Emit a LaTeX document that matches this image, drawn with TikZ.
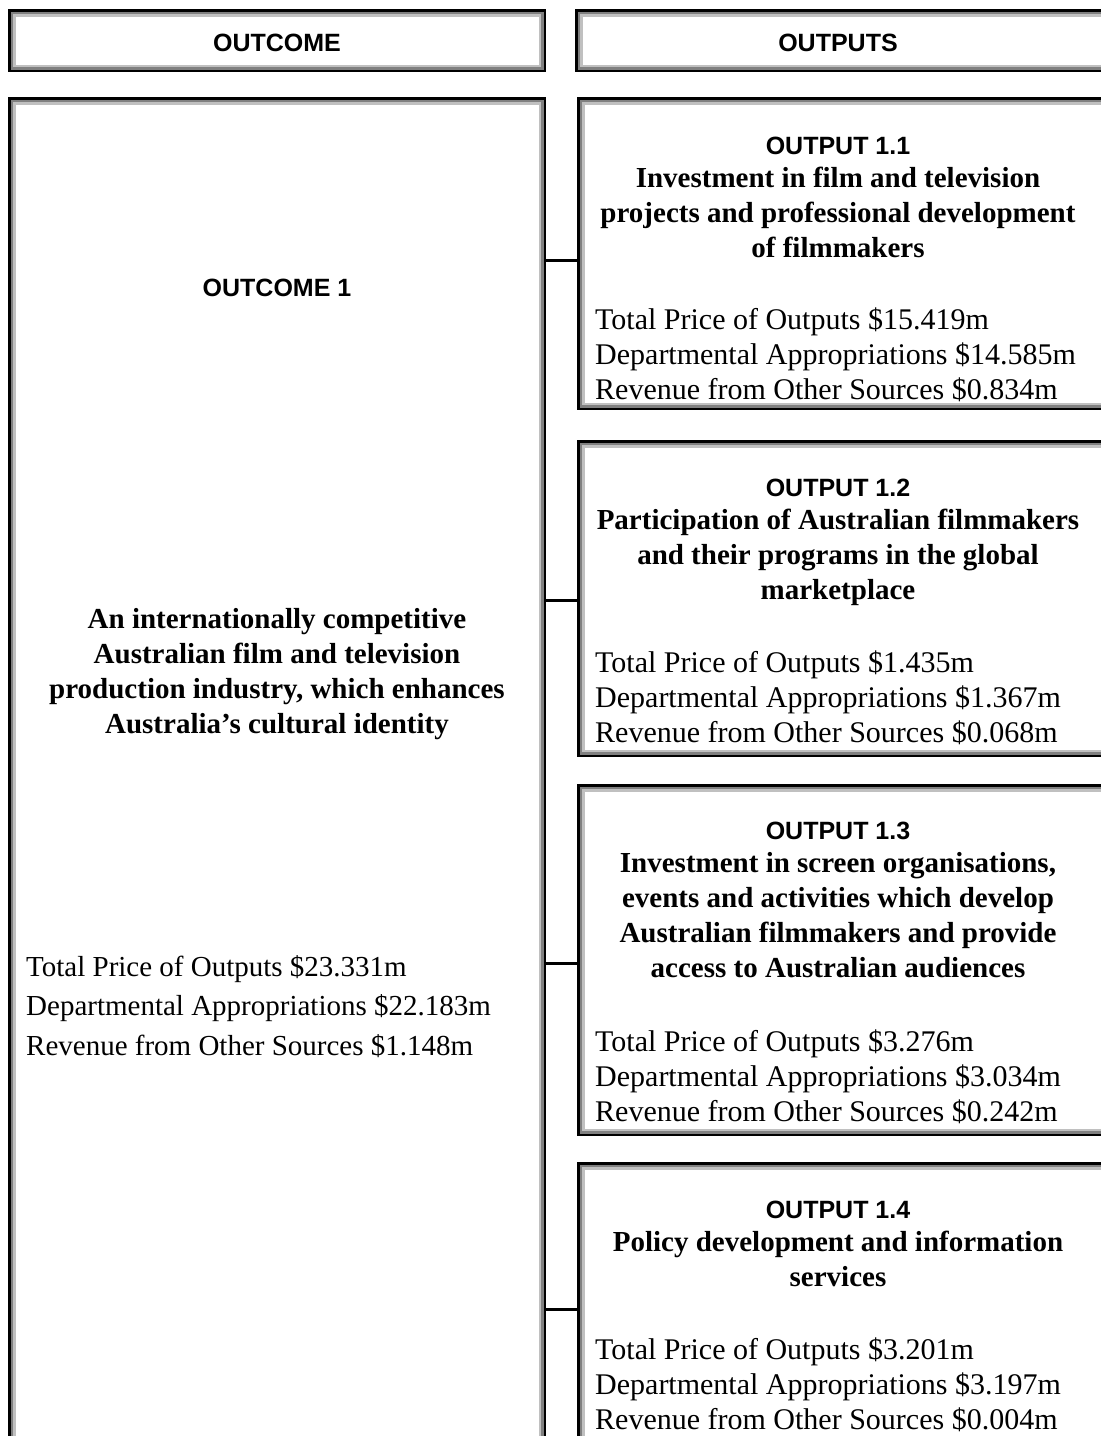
\documentclass[tikz,border=0pt]{standalone}
\usepackage{fontspec}
\setmainfont{Liberation Serif}
\setsansfont{Liberation Sans}
\definecolor{midgray}{RGB}{128,128,128}
\definecolor{litegray}{RGB}{192,192,192}
\newcommand\triframe[1]{%
  \draw[litegray,line width=2.5pt] ([shift={(6.25,6.25)}]#1.north west) rectangle ([shift={(-6.25,-6.25)}]#1.south east);
  \draw[midgray,line width=2.5pt] ([shift={(3.75,3.75)}]#1.north west) rectangle ([shift={(-3.75,-3.75)}]#1.south east);
  \draw[black,line width=2.5pt] ([shift={(1.25,1.25)}]#1.north west) rectangle ([shift={(-1.25,-1.25)}]#1.south east);
}
\begin{document}
\begin{tikzpicture}[x=1pt,y=-1pt,
  frame/.style={rectangle,draw=none,inner sep=0pt,outer sep=0pt,minimum width=#1},
  head/.style={font=\fontsize{25}{28}\selectfont\sffamily\bfseries,anchor=base,inner sep=0pt},
  boldtxt/.style={font=\fontsize{29}{35}\selectfont\rmfamily\bfseries,align=center,anchor=base,inner sep=0pt},
  plain/.style={font=\fontsize{30}{35}\selectfont\rmfamily,align=left,anchor=base west,inner sep=0pt},
  stub/.style={line width=3pt,black}]
\useasboundingbox (0,0) rectangle (1101,1436);
\clip (0,0) rectangle (1101,1436);
% frames
\node[frame=538,minimum height=63] (hL) at (277,40.5) {};
\node[frame=535,minimum height=63] (hR) at (842.5,40.5) {};
\node[frame=538,minimum height=1373] (main) at (277,783.5) {};
\node[frame=533,minimum height=313] (o1) at (843.5,253.5) {};
\node[frame=533,minimum height=317] (o2) at (843.5,598.5) {};
\node[frame=533,minimum height=352] (o3) at (843.5,960) {};
\node[frame=533,minimum height=308] (o4) at (843.5,1316) {};
\triframe{hL}\triframe{hR}\triframe{main}
\triframe{o1}\triframe{o2}\triframe{o3}\triframe{o4}
% connectors
\coordinate (c1) at (546,260);
\coordinate (c2) at (546,600);
\coordinate (c3) at (546,963);
\coordinate (c4) at (546,1309);
\draw[stub] (c1) -- (c1 -| o1.west);
\draw[stub] (c2) -- (c2 -| o2.west);
\draw[stub] (c3) -- (c3 -| o3.west);
\draw[stub] (c4) -- (c4 -| o4.west);
% headers
\node[head] (tL) at (277,51) {OUTCOME};
\node[head] (tR) at (838,51) {OUTPUTS};
% outcome
\node[head] (oc) at (277,296) {OUTCOME 1};
\node[boldtxt] (ocd) at (277,733) {An internationally competitive\\Australian film and television\\production industry, which enhances\\Australia’s cultural identity};
\node[plain,font=\fontsize{29}{39.5}\selectfont\rmfamily] (ocn) at (26,1055) {Total Price of Outputs \$23.331m\\Departmental Appropriations \$22.183m\\Revenue from Other Sources \$1.148m};
% output 1.1
\node[head] (h1) at (838,154) {OUTPUT 1.1};
\node[boldtxt] (d1) at (838,257) {Investment in film and television\\projects and professional development\\of filmmakers};
\node[plain] (n1) at (595,399) {Total Price of Outputs \$15.419m\\Departmental Appropriations \$14.585m\\Revenue from Other Sources \$0.834m};
% output 1.2
\node[head] (h2) at (838,496) {OUTPUT 1.2};
\node[boldtxt] (d2) at (838,599) {Participation of Australian filmmakers\\and their programs in the global\\marketplace};
\node[plain] (n2) at (595,742) {Total Price of Outputs \$1.435m\\Departmental Appropriations \$1.367m\\Revenue from Other Sources \$0.068m};
% output 1.3
\node[head] (h3) at (838,839) {OUTPUT 1.3};
\node[boldtxt] (d3) at (838,977) {Investment in screen organisations,\\events and activities which develop\\Australian filmmakers and provide\\access to Australian audiences};
\node[plain] (n3) at (595,1121) {Total Price of Outputs \$3.276m\\Departmental Appropriations \$3.034m\\Revenue from Other Sources \$0.242m};
% output 1.4
\node[head] (h4) at (838,1218) {OUTPUT 1.4};
\node[boldtxt] (d4) at (838,1286) {Policy development and information\\services};
\node[plain] (n4) at (595,1429) {Total Price of Outputs \$3.201m\\Departmental Appropriations \$3.197m\\Revenue from Other Sources \$0.004m};
\end{tikzpicture}
\end{document}
